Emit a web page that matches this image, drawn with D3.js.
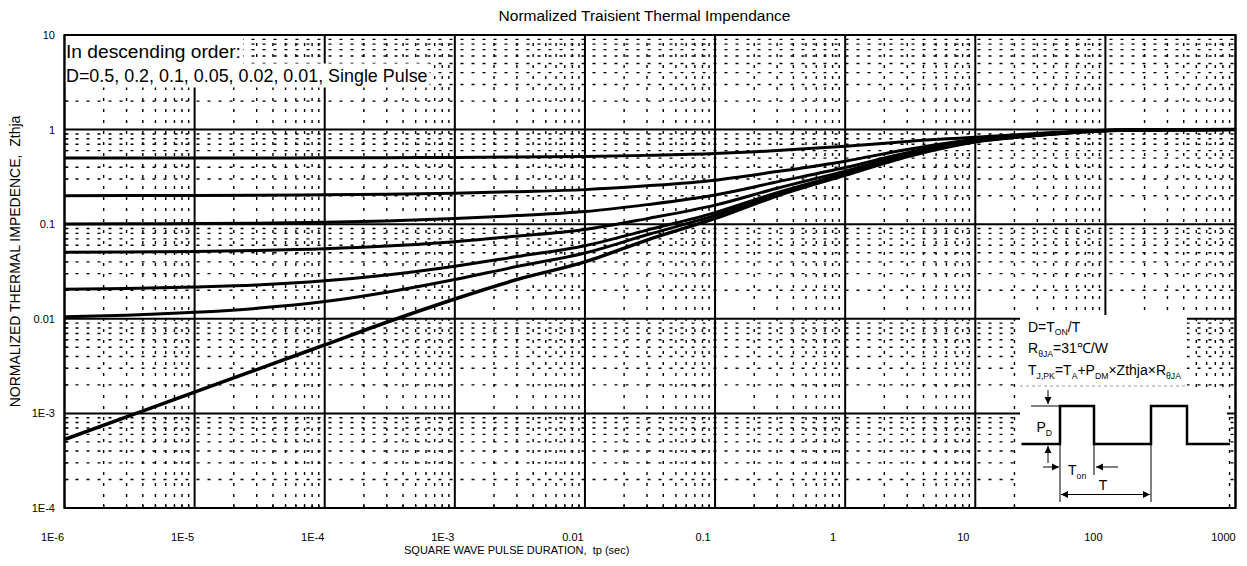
<!DOCTYPE html>
<html><head><meta charset="utf-8">
<script src="https://cdn.jsdelivr.net/npm/d3@7"></script>
<style>
html,body{margin:0;padding:0;background:#fff;}
svg{display:block;font-family:"Liberation Sans",Arial,sans-serif;}
text{white-space:pre;}
</style></head>
<body><svg id="c" width="1247" height="566"></svg>
<script>
// ---- data ----
const tp = [1e-6, 3e-6, 1e-5, 3e-5, 1e-4, 3e-4, 1e-3, 3e-3, 1e-2, 3e-2, 0.1, 0.3, 1, 3, 10, 30, 100, 300, 1000];
const zD050 = [0.5003,0.5005,0.5008,0.5015,0.5027,0.5046,0.508,0.513,0.52,0.534,0.558,0.60,0.665,0.75,0.83,0.91,0.985,1.0,1.0];
const zD020 = [0.2004,0.2007,0.2013,0.2023,0.2042,0.2074,0.213,0.2208,0.232,0.2544,0.292,0.36,0.464,0.616,0.79,0.89,0.98,0.997,1.0];
const zD010 = [0.1005,0.1008,0.1015,0.1026,0.1048,0.1083,0.1146,0.1234,0.136,0.161,0.2035,0.28,0.397,0.568,0.77,0.88,0.978,0.996,1.0];
const zD005 = [0.0505,0.0509,0.0516,0.0528,0.0550,0.0587,0.0654,0.0747,0.088,0.1146,0.159,0.24,0.364,0.544,0.76,0.875,0.977,0.996,1.0];
const zD002 = [0.0205,0.0209,0.0217,0.0228,0.0252,0.0290,0.0359,0.0455,0.0592,0.0866,0.1327,0.216,0.343,0.53,0.752,0.872,0.976,0.996,1.0];
const zD001 = [0.0105,0.0109,0.0117,0.0129,0.0152,0.0191,0.0260,0.0357,0.0496,0.0773,0.1239,0.208,0.337,0.525,0.748,0.87,0.975,0.996,1.0];
const zSingle = [5.3e-4,9.2e-4,1.68e-3,2.9e-3,5.3e-3,9.2e-3,0.0162,0.026,0.040,0.068,0.115,0.20,0.33,0.52,0.745,0.87,0.975,0.996,1.0];
const seriesNames = ["D=0.5","D=0.2","D=0.1","D=0.05","D=0.02","D=0.01","Single Pulse"];
const seriesValues = [zD050,zD020,zD010,zD005,zD002,zD001,zSingle];
const xTickVals = [1e-6,1e-5,1e-4,1e-3,1e-2,0.1,1,10,100,1000];
const xTickLabels = ["1E-6","1E-5","1E-4","1E-3","0.01","0.1","1","10","100","1000"];
const yTickVals = [1e-4,1e-3,0.01,0.1,1,10];
const yTickLabels = ["1E-4","1E-3","0.01","0.1","1","10"];
const titleText = "Normalized Traisient Thermal Impendance";
const xTitle = "SQUARE WAVE PULSE DURATION,  tp (sec)";
const yTitle = "NORMALIZED THERMAL IMPEDENCE,  Zthja";
const noteLines = ["In descending order:", "D=0.5, 0.2, 0.1, 0.05, 0.02, 0.01, Single Pulse"];

// ---- layout ----
const L = 64.5, R = 1235.5, T = 35, B = 508;
const svg = d3.select("#c");
const x = d3.scaleLog().domain([1e-6, 1000]).range([L, R]);
const y = d3.scaleLog().domain([1e-4, 10]).range([B, T]);

// minor grid
const gMinor = svg.append("g").attr("stroke","#000").attr("stroke-width",1.4).attr("stroke-dasharray","3,8").attr("fill","none");
const minorX = [], minorY = [];
for (let e=-6; e<=2; e++) for (let k=2; k<=9; k++) minorX.push(k*Math.pow(10,e));
for (let e=-4; e<=0; e++) for (let k=2; k<=9; k++) minorY.push(k*Math.pow(10,e));
gMinor.selectAll("line.vx").data(minorX).join("line").attr("class","vx")
  .attr("x1",d=>x(d)).attr("x2",d=>x(d)).attr("y1",B).attr("y2",T);
gMinor.selectAll("line.hy").data(minorY).join("line").attr("class","hy")
  .attr("y1",d=>y(d)).attr("y2",d=>y(d)).attr("x1",L).attr("x2",R);

// major grid
const gMajor = svg.append("g").attr("stroke","#000").attr("stroke-width",2);
gMajor.selectAll("line.v").data(xTickVals).join("line").attr("class","v")
  .attr("x1",d=>x(d)).attr("x2",d=>x(d)).attr("y1",B).attr("y2",T);
gMajor.selectAll("line.h").data(yTickVals).join("line").attr("class","h")
  .attr("y1",d=>y(d)).attr("y2",d=>y(d)).attr("x1",L).attr("x2",R);

// small minor ticks on axes
const gt = svg.append("g").attr("stroke","#000").attr("stroke-width",1.3);
gt.selectAll("line.bt").data(minorX).join("line").attr("class","bt")
  .attr("x1",d=>x(d)).attr("x2",d=>x(d)).attr("y1",B).attr("y2",B-4);
gt.selectAll("line.lt").data(minorY).join("line").attr("class","lt")
  .attr("y1",d=>y(d)).attr("y2",d=>y(d)).attr("x1",L).attr("x2",L+4);

// white boxes: note area (top-left) and inset (bottom-right)
const gBoxes = svg.append("g").attr("fill","#fff");
const gNote = svg.append("g");
const noteSizes = [19.2, 17.9];
noteLines.forEach((s,i)=>{
  const t = gNote.append("text").attr("x",66).attr("y",57.5+i*24).attr("font-size",noteSizes[i]).attr("fill","#000").text(s);
  const bb = t.node().getBBox();
  gBoxes.append("rect").attr("x",L+1).attr("y",i===0?T+1:63.5).attr("width",bb.x+bb.width+2-(L+1)).attr("height",i===0?28:24);
});
gBoxes.append("rect").attr("x",1020).attr("y",315).attr("width",167).attr("height",72);
gBoxes.append("rect").attr("x",1020).attr("y",387).attr("width",207).attr("height",B-1-387);

// frame
svg.append("rect").attr("x",L).attr("y",T).attr("width",R-L).attr("height",B-T)
  .attr("fill","none").attr("stroke","#000").attr("stroke-width",2);

// curves
const line = d3.line().x(d=>x(d[0])).y(d=>y(d[1])).curve(d3.curveMonotoneX);
svg.append("g").selectAll("path").data(seriesValues).join("path")
  .attr("d",v=>line(tp.map((t,i)=>[t,v[i]])))
  .attr("fill","none").attr("stroke","#000")
  .attr("stroke-width",(v,i)=>i===6?3.5:3).attr("stroke-linejoin","round");

// axes labels
svg.append("g").selectAll("text").data(xTickVals).join("text")
  .attr("x",d=>x(d)-12).attr("y",541).attr("text-anchor","middle").attr("font-size",11)
  .text((d,i)=>xTickLabels[i]);
svg.append("g").selectAll("text").data(yTickVals).join("text")
  .attr("x",55).attr("y",d=>y(d)+4).attr("text-anchor","end").attr("font-size",11)
  .text((d,i)=>yTickLabels[i]);
svg.append("text").attr("x",644.5).attr("y",21).attr("text-anchor","middle").attr("font-size",15.5).text(titleText);
svg.append("text").attr("x",404).attr("y",554).attr("font-size",11).text(xTitle);
svg.append("text").attr("transform","translate(20,261.5) rotate(-90)").attr("text-anchor","middle").attr("font-size",14).text(yTitle);

// inset text
function rich(x0,y0,parts,fs){
  const t = svg.append("text").attr("x",x0).attr("y",y0).attr("font-size",fs);
  parts.forEach(p=>{
    if (p[1]) t.append("tspan").attr("font-size",fs*0.62).attr("dy",3.5).text(p[0]);
    else t.append("tspan").text(p[0]);
  });
  let sub=false;
  t.selectAll("tspan").each(function(d,i){
    const isSub = parts[i][1];
    if (!isSub && sub) d3.select(this).attr("dy",-3.5);
    sub = isSub;
  });
  return t;
}
rich(1028,331.5,[["D=T"],["ON",1],["/T"]],14);
rich(1028,353,[["R"],["θJA",1],["=31℃/W"]],14);
rich(1028,375,[["T"],["J,PK",1],["=T"],["A",1],["+P"],["DM",1],["×Zthja×R"],["θJA",1]],14);
svg.append("line").attr("x1",1020).attr("x2",1187).attr("y1",386).attr("y2",386)
  .attr("stroke","#999").attr("stroke-width",1).attr("stroke-dasharray","3,3");

// waveform
const hi = 406, lo = 444;
svg.append("path").attr("d",`M1021.5,${lo}H1060V${hi}H1094V${lo}H1151V${hi}H1187V${lo}H1230`)
  .attr("fill","none").attr("stroke","#000").attr("stroke-width",2.5);
const thin = svg.append("g").attr("stroke","#000").attr("stroke-width",1).attr("fill","none");
thin.append("line").attr("x1",1031).attr("x2",1060).attr("y1",hi).attr("y2",hi);
thin.append("line").attr("x1",1060).attr("x2",1060).attr("y1",lo).attr("y2",502);
thin.append("line").attr("x1",1151).attr("x2",1151).attr("y1",lo).attr("y2",502);
thin.append("line").attr("x1",1094).attr("x2",1094).attr("y1",lo).attr("y2",475);
function arrow(x1,y1,x2,y2,both){
  thin.append("line").attr("x1",x1).attr("y1",y1).attr("x2",x2).attr("y2",y2);
  const head=(xa,ya,xb,yb)=>{
    const a=Math.atan2(yb-ya,xb-xa), l=7, w=3.5;
    const p=[[xb,yb],[xb-l*Math.cos(a)+w*Math.sin(a),yb-l*Math.sin(a)-w*Math.cos(a)],[xb-l*Math.cos(a)-w*Math.sin(a),yb-l*Math.sin(a)+w*Math.cos(a)]];
    svg.append("path").attr("d","M"+p.join("L")+"Z").attr("fill","#000");
  };
  head(x1,y1,x2,y2);
  if(both) head(x2,y2,x1,y1);
}
arrow(1048,390,1048,404);
arrow(1048,463,1048,446);
arrow(1043,467,1059,467);
arrow(1118,467,1096,467);
arrow(1061,494.5,1150,494.5,true);
rich(1036.5,432,[["P"],["D",1]],14);
rich(1068,475,[["T"],["on",1]],14);
svg.append("text").attr("x",1103).attr("y",490).attr("text-anchor","middle").attr("font-size",14).text("T");
</script></body></html>
